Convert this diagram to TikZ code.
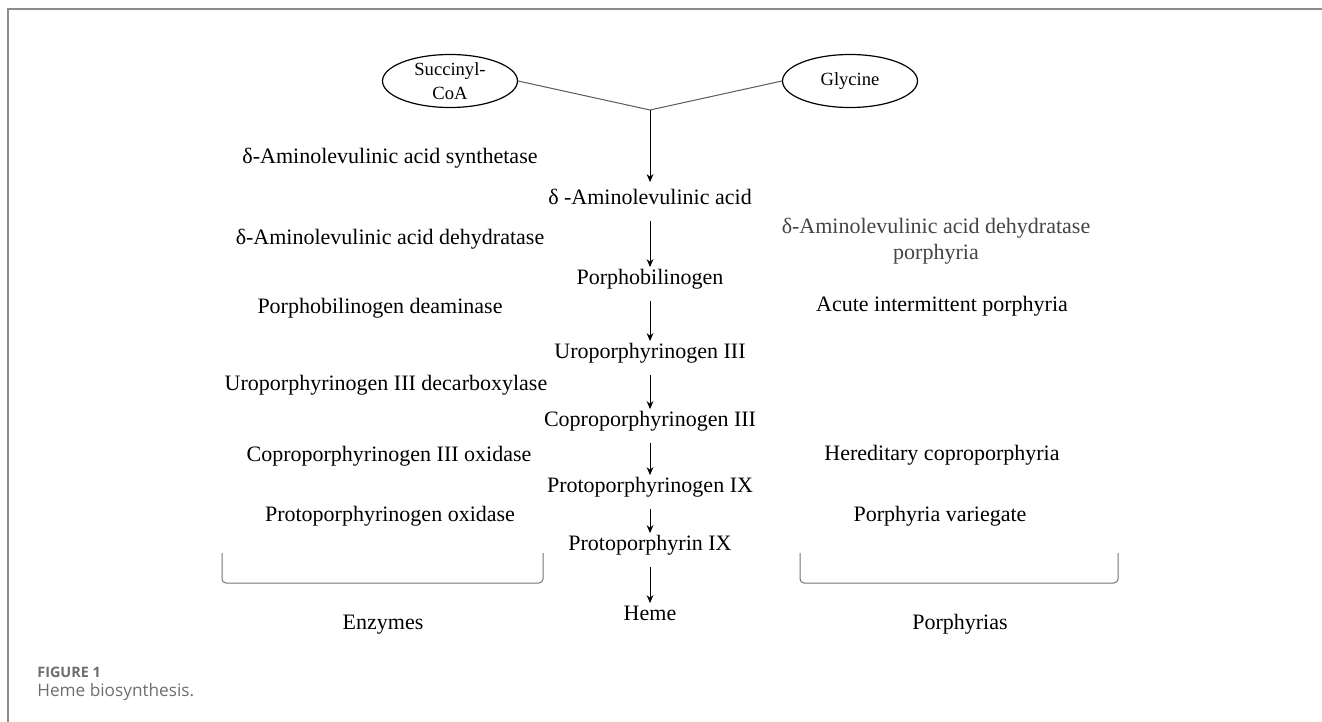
\documentclass[tikz,border=0pt]{standalone}
\usepackage{fontspec}
\setmainfont{Liberation Serif}
\newfontfamily\capfont{Open Sans}
\usetikzlibrary{positioning, arrows.meta, shapes.geometric}
\definecolor{framegray}{HTML}{8C8C8C}
\definecolor{capgray}{HTML}{6E6E6E}
\definecolor{txtgray}{HTML}{444444}

\begin{document}
\begin{tikzpicture}[
     x=0.5pt, y=-0.5pt,
     node distance = 4mm and 4mm,
        txt/.style = {font=\fontsize{11}{13}\selectfont, inner sep=2pt, text height=8pt, text depth=2.5pt},
        sub/.style = {ellipse, draw, line width=0.6pt, minimum width=67.5pt, minimum height=26.5pt,
                      inner sep=0pt, align=center, font=\fontsize{9.3}{12}\selectfont},
       flow/.style = {-{Stealth[length=4pt, width=3.4pt]}, line width=0.5pt,
                      shorten <=3.5pt, shorten >=-1.5pt},
      brace/.style = {draw=black!55, line width=0.5pt, rounded corners=2pt}
                        ]
\useasboundingbox (0,0) rectangle (1322,722);
% frame
\draw[framegray, line width=1pt] (1322,9) -- (8,9) -- (8,722);
% substrates
\node (succ) [sub] at (450,81) {Succinyl-\\CoA};
\node (gly)  [sub] at (850,81) {Glycine};
\coordinate (j) at (650,110);
\draw[black!65, line width=0.5pt] (succ.east) -- (j);
\draw[black!65, line width=0.5pt] (gly.west) -- (j);
% pathway
\node (ala)    [txt] at (650,199) {δ -Aminolevulinic acid};
\node (pbg)    [txt] at (650,279) {Porphobilinogen};
\node (uro)    [txt] at (650,353) {Uroporphyrinogen III};
\node (copro)  [txt] at (650,421) {Coproporphyrinogen III};
\node (protgn) [txt] at (650,487) {Protoporphyrinogen IX};
\node (proto)  [txt] at (650,545) {Protoporphyrin IX};
\node (heme)   [txt] at (650,615) {Heme};
\draw[flow, shorten <=0pt, shorten >=1pt] (j) -- (ala);
\draw[flow] (ala) -- (pbg);
\draw[flow] (pbg) -- (uro);
\draw[flow] (uro) -- (copro);
\draw[flow] (copro) -- (protgn);
\draw[flow] (protgn) -- (proto);
\draw[flow] (proto) -- (heme);
% enzymes
\node (alas)   [txt] at (390,158) {δ-Aminolevulinic acid synthetase};
\node (alad)   [txt] at (390,239) {δ-Aminolevulinic acid dehydratase};
\node (pbgd)   [txt] at (380,308) {Porphobilinogen deaminase};
\node (urod)   [txt] at (386,385) {Uroporphyrinogen III decarboxylase};
\node (cpox)   [txt] at (389,456) {Coproporphyrinogen III oxidase};
\node (ppox)   [txt] at (390,516) {Protoporphyrinogen oxidase};
% porphyrias
\node (adp)    [txt, align=center, text=txtgray, text height=, text depth=] at (936,241)
               {δ-Aminolevulinic acid dehydratase\\porphyria};
\node (aip)    [txt] at (942,306) {Acute intermittent porphyria};
\node (hcp)    [txt] at (942,455) {Hereditary coproporphyria};
\node (vp)     [txt] at (940,516) {Porphyria variegate};
% groups
\draw[brace] (222,553) -- (222,583) -- (543,583) -- (543,553);
\draw[brace] (800,553) -- (800,583) -- (1118,583) -- (1118,553);
\node (enz)  [txt] at (383,624) {Enzymes};
\node (porph)[txt] at (960,624) {Porphyrias};
% caption
\node (fig) [anchor=west, inner sep=0pt, text=capgray, font=\capfont\bfseries\fontsize{7.2}{8}\selectfont] at (37,672) {FIGURE 1};
\node (cap) [anchor=west, inner sep=0pt, text=capgray, font=\capfont\fontsize{8.6}{10}\selectfont] at (37,692) {Heme biosynthesis.};
\end{tikzpicture}
\end{document}
